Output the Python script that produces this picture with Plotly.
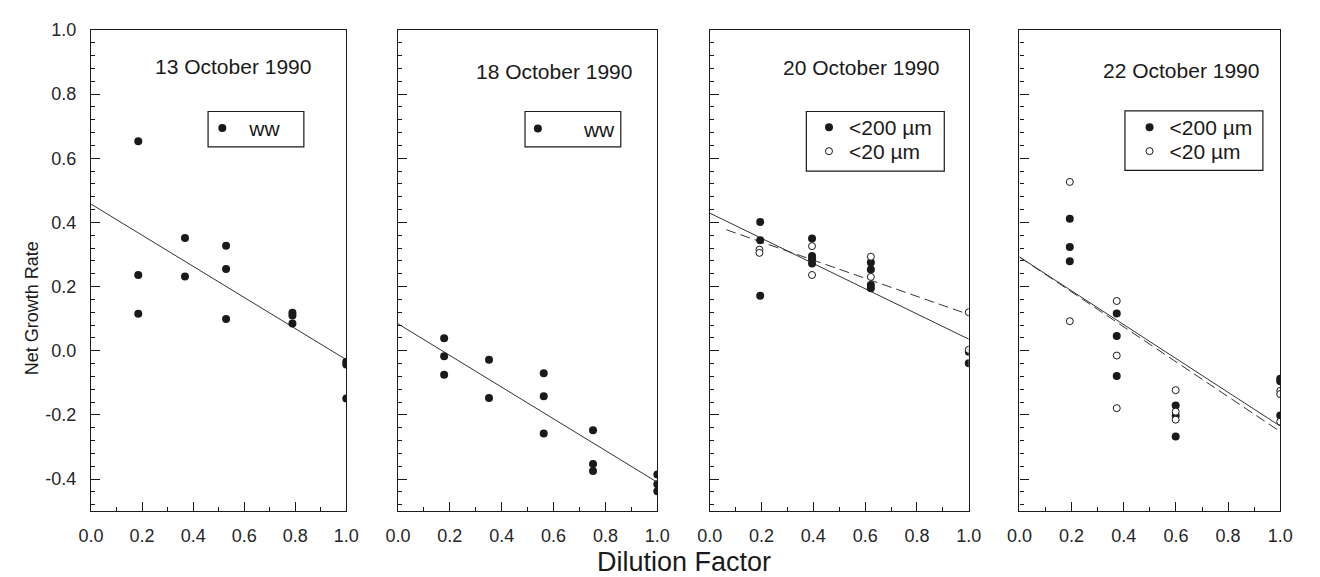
import plotly.graph_objects as go

# ---------------- data ----------------
titles = ["13 October 1990", "18 October 1990", "20 October 1990", "22 October 1990"]

# 13 October 1990 (ww)
x1 = [0.185, 0.185, 0.185, 0.368, 0.368, 0.529, 0.529, 0.529, 0.789, 0.789, 0.789, 1.0, 1.0, 1.0]
y1 = [0.653, 0.236, 0.115, 0.351, 0.231, 0.327, 0.255, 0.099, 0.118, 0.110, 0.085, -0.034, -0.043, -0.149]
fit1_x = [0.0, 1.0]
fit1_y = [0.457, -0.028]

# 18 October 1990 (ww)
x2 = [0.178, 0.178, 0.178, 0.351, 0.351, 0.562, 0.562, 0.562, 0.752, 0.752, 0.752, 1.0, 1.0, 1.0]
y2 = [0.039, -0.017, -0.075, -0.028, -0.147, -0.070, -0.142, -0.258, -0.248, -0.353, -0.375, -0.386, -0.416, -0.438]
fit2_x = [0.0, 1.0]
fit2_y = [0.084, -0.410]

# 20 October 1990
x3_200 = [0.195, 0.195, 0.195, 0.395, 0.395, 0.395, 0.395, 0.622, 0.622, 0.622, 0.622, 1.0, 1.0]
y3_200 = [0.401, 0.344, 0.171, 0.350, 0.295, 0.285, 0.272, 0.275, 0.253, 0.205, 0.195, -0.003, -0.039]
x3_20 = [0.192, 0.192, 0.395, 0.395, 0.622, 0.622, 1.0, 1.0]
y3_20 = [0.315, 0.305, 0.326, 0.236, 0.293, 0.230, 0.120, 0.003]
fit3s_x = [0.0, 1.0]
fit3s_y = [0.429, 0.036]
fit3d_x = [0.064, 1.0]
fit3d_y = [0.377, 0.113]

# 22 October 1990
x4_200 = [0.193, 0.193, 0.193, 0.373, 0.373, 0.373, 0.599, 0.599, 0.599, 1.0, 1.0, 1.0]
y4_200 = [0.411, 0.323, 0.279, 0.116, 0.046, -0.079, -0.171, -0.203, -0.267, -0.087, -0.095, -0.202]
x4_20 = [0.193, 0.193, 0.373, 0.373, 0.373, 0.599, 0.599, 0.599, 1.0, 1.0, 1.0]
y4_20 = [0.526, 0.092, 0.155, -0.015, -0.179, -0.123, -0.190, -0.215, -0.125, -0.135, -0.221]
fit4s_x = [0.0, 1.0]
fit4s_y = [0.292, -0.235]
fit4d_x = [0.0, 1.0]
fit4d_y = [0.292, -0.252]

# ---------------- style ----------------
FONT = "Liberation Sans, Arial, Helvetica, sans-serif"
INK = "#1a1a1a"
W, H = 1320, 577

def px(X):                   # pixel x -> paper fraction
    return X / W

def py(Y):                   # pixel y (from top) -> paper fraction
    return 1 - Y / H

filled = dict(size=8, color=INK, line=dict(width=0))
opened = dict(size=7, color="white", line=dict(width=1, color=INK))
solid = dict(color="#333333", width=1)
dashed = dict(color="#333333", width=1, dash="10px,5px")

fig = go.Figure()

def add(x, y, xa, ya, **kw):
    fig.add_trace(go.Scatter(x=x, y=y, xaxis=xa, yaxis=ya, **kw))

# panel 1
add(fit1_x, fit1_y, "x", "y", mode="lines", line=solid, showlegend=False)
add(x1, y1, "x", "y", mode="markers", marker=filled, name="ww", legend="legend")
# panel 2
add(fit2_x, fit2_y, "x2", "y2", mode="lines", line=solid, showlegend=False)
add(x2, y2, "x2", "y2", mode="markers", marker=filled, name="ww", legend="legend2")
# panel 3
add(fit3s_x, fit3s_y, "x3", "y3", mode="lines", line=solid, showlegend=False)
add(fit3d_x, fit3d_y, "x3", "y3", mode="lines", line=dashed, showlegend=False)
add(x3_200, y3_200, "x3", "y3", mode="markers", marker=filled, name="<200 µm", legend="legend3")
add(x3_20, y3_20, "x3", "y3", mode="markers", marker=opened, name="<20 µm", legend="legend5")
# panel 4
add(fit4s_x, fit4s_y, "x4", "y4", mode="lines", line=solid, showlegend=False)
add(fit4d_x, fit4d_y, "x4", "y4", mode="lines", line=dashed, showlegend=False)
add(x4_200, y4_200, "x4", "y4", mode="markers", marker=filled, name="<200 µm", legend="legend4")
add(x4_20, y4_20, "x4", "y4", mode="markers", marker=opened, name="<20 µm", legend="legend6")

xdomains = [(79.6, 340.0), (392.7, 657.3), (710.7, 975.0), (1026.7, 1292.7)]
ytop, ybot = 20.2, 510.0
ydom = [py(ybot), py(ytop)]

layout = dict(
    width=W, height=H, margin=dict(l=0, r=0, t=0, b=0),
    paper_bgcolor="white", plot_bgcolor="white",
    font=dict(family=FONT, color=INK),
    showlegend=True,
)

for i, (l, r) in enumerate(xdomains):
    sfx = "" if i == 0 else str(i + 1)
    layout["xaxis" + sfx] = dict(
        domain=[px(l), px(r)], range=[0, 1], anchor="y" + sfx,
        showline=True, linecolor=INK, linewidth=1.2, mirror=True,
        showgrid=False, zeroline=False,
        tickmode="array", tickvals=[0, 0.2, 0.4, 0.6, 0.8, 1.0],
        ticktext=["0.0", "0.2", "0.4", "0.6", "0.8", "1.0"],
        ticks="inside", ticklen=9, tickwidth=1, tickcolor=INK,
        tickfont=dict(size=18, family=FONT, color="#262626"),
        ticklabelstandoff=8,
        minor=dict(dtick=0.1, tick0=0, ticks="inside", ticklen=4, tickwidth=1, tickcolor=INK, showgrid=False),
    )
    layout["yaxis" + sfx] = dict(
        domain=ydom, range=[-0.5, 1.0], anchor="x" + sfx,
        showline=True, linecolor=INK, linewidth=1.2, mirror=True,
        showgrid=False, zeroline=False,
        tickmode="array", tickvals=[-0.4, -0.2, 0.0, 0.2, 0.4, 0.6, 0.8, 1.0],
        ticktext=["-0.4", "-0.2", "0.0", "0.2", "0.4", "0.6", "0.8", "1.0"],
        ticks="inside", ticklen=9, tickwidth=1, tickcolor=INK,
        showticklabels=(i == 0),
        tickfont=dict(size=18, family=FONT, color="#262626"),
        ticklabelstandoff=10,
        minor=dict(dtick=0.04, tick0=0, ticks="inside", ticklen=4, tickwidth=1, tickcolor=INK, showgrid=False),
    )

# legend boxes (drawn as frames) and single-entry legends inside them
boxes = [(199.0, 103.3, 296.7, 139.3), (522.3, 103.3, 620.0, 139.3),
         (809.3, 103.3, 950.0, 164.0), (1134.3, 102.7, 1275.0, 163.3)]
shapes = []
for (bx0, by0, bx1, by1) in boxes:
    shapes.append(dict(type="rect", xref="paper", yref="paper",
                       x0=px(bx0), x1=px(bx1), y0=py(by1), y1=py(by0),
                       line=dict(color=INK, width=1.2), fillcolor="rgba(0,0,0,0)"))
layout["shapes"] = shapes

# (legend key, left x, row centre y, itemwidth)
legends = [("legend", 186.0, 120.5, 44), ("legend2", 488.5, 121.0, 82),
           ("legend3", 812.0, 119.7, 30), ("legend5", 812.0, 144.0, 30),
           ("legend4", 1139.0, 119.7, 30), ("legend6", 1139.0, 144.0, 30)]
for key, lx, ly, iw in legends:
    layout[key] = dict(
        x=px(lx), y=py(ly), xanchor="left", yanchor="middle",
        borderwidth=0, bgcolor="rgba(0,0,0,0)",
        font=dict(size=21, family=FONT, color=INK),
        itemwidth=iw, itemsizing="trace",
    )

title_pos = [(224.0, 57.7), (551.7, 62.5), (864.7, 58.3), (1191.0, 61.7)]
annotations = []
for t, (tx, ty) in zip(titles, title_pos):
    annotations.append(dict(text=t, x=px(tx), y=py(ty), xref="paper", yref="paper",
                            xanchor="center", yanchor="middle", showarrow=False,
                            font=dict(size=21, family=FONT, color=INK)))
annotations.append(dict(text="Net Growth Rate", x=px(19), y=py(304), xref="paper", yref="paper",
                        xanchor="center", yanchor="middle", textangle=-90, showarrow=False,
                        font=dict(size=18, family=FONT, color=INK)))
annotations.append(dict(text="Dilution Factor", x=px(684.5), y=py(562), xref="paper", yref="paper",
                        xanchor="center", yanchor="middle", showarrow=False,
                        font=dict(size=27, family=FONT, color=INK)))
layout["annotations"] = annotations

fig.update_layout(**layout)
fig.write_html("out.html")
